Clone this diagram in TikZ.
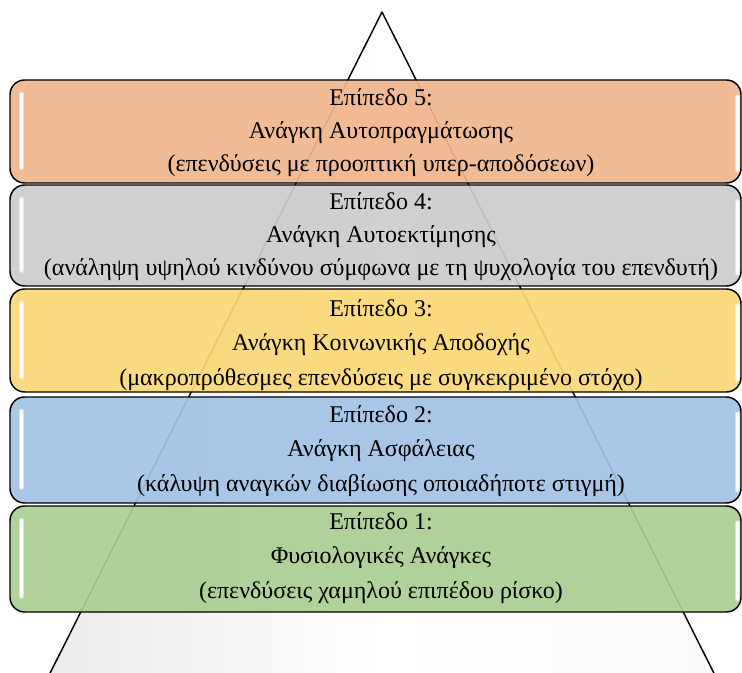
\documentclass[tikz,border=0pt]{standalone}
\usepackage{fontspec}
\setmainfont{Liberation Serif}
\definecolor{cOr}{RGB}{240,181,141}
\definecolor{cGr}{RGB}{204,204,204}
\definecolor{cYe}{RGB}{251,216,118}
\definecolor{cBl}{RGB}{163,194,229}
\definecolor{cGn}{RGB}{170,206,145}
\begin{document}
\begin{tikzpicture}[x=0.75pt,y=-0.75pt]
\tikzset{
  levelbox/.style={draw=black, line width=1.1pt, rounded corners=11pt, fill opacity=0.92, text opacity=1, minimum width=548.25pt, inner sep=0pt},
  lbl/.style={align=center, font=\fontsize{18pt}{24.75pt}\selectfont, inner sep=0pt},
  lblw/.style={align=center, font=\fontsize{18pt}{26pt}\selectfont, inner sep=0pt},
  glow/.style={white, opacity=0.5, line width=3.5pt, line cap=round},
  hl/.style={white, line width=2pt, line cap=round}
}
\useasboundingbox (0,0) rectangle (742,673);
\clip (0,0) rectangle (742,673);
% background pyramid
\shade[left color=black!8, right color=black!2, middle color=white] (382,12) -- (36.6,700) -- (727.4,700) -- cycle;
\draw[line width=1.1pt, line join=round] (382,12) -- (36.6,700) -- (727.4,700) -- cycle;
% boxes
\node[levelbox, fill=cOr, minimum height=77.25pt] (b5) at (375.5,131.5) {};
\node[levelbox, fill=cGr, minimum height=75.75pt] (b4) at (375.5,235.5) {};
\node[levelbox, fill=cYe, minimum height=77.25pt] (b3) at (375.5,340.5) {};
\node[levelbox, fill=cBl, minimum height=79.5pt] (b2) at (375.5,450) {};
\node[levelbox, fill=cGn, minimum height=79.5pt] (b1) at (375.5,559) {};
% highlights
\foreach \b in {b5,b4,b3,b2,b1}{
  \draw[glow] ([xshift=9pt,yshift=-11pt]\b.north west) -- ([xshift=9pt,yshift=12pt]\b.south west);
  \draw[hl] ([xshift=9pt,yshift=-11pt]\b.north west) -- ([xshift=9pt,yshift=12pt]\b.south west);
  \draw[glow] ([xshift=-3pt,yshift=-13pt]\b.north east) -- ([xshift=-3pt,yshift=10pt]\b.south east);
  \draw[hl] ([xshift=-3pt,yshift=-13pt]\b.north east) -- ([xshift=-3pt,yshift=10pt]\b.south east);
}
% labels
\node[lbl] (t5) at (381,133) {Επίπεδο 5:\\Ανάγκη Αυτοπραγμάτωσης\\(επενδύσεις με προοπτική υπερ-αποδόσεων)};
\node[lbl] (t4) at (381,237) {Επίπεδο 4:\\Ανάγκη Αυτοεκτίμησης\\(ανάληψη υψηλού κινδύνου σύμφωνα με τη ψυχολογία του επενδυτή)};
\node[lblw] (t3) at (381,345) {Επίπεδο 3:\\Ανάγκη Κοινωνικής Αποδοχής\\(μακροπρόθεσμες επενδύσεις με συγκεκριμένο στόχο)};
\node[lblw] (t2) at (381,451) {Επίπεδο 2:\\Ανάγκη Ασφάλειας\\(κάλυψη αναγκών διαβίωσης οποιαδήποτε στιγμή)};
\node[lblw] (t1) at (381,558) {Επίπεδο 1:\\Φυσιολογικές Ανάγκες\\(επενδύσεις χαμηλού επιπέδου ρίσκο)};
\end{tikzpicture}
\end{document}
